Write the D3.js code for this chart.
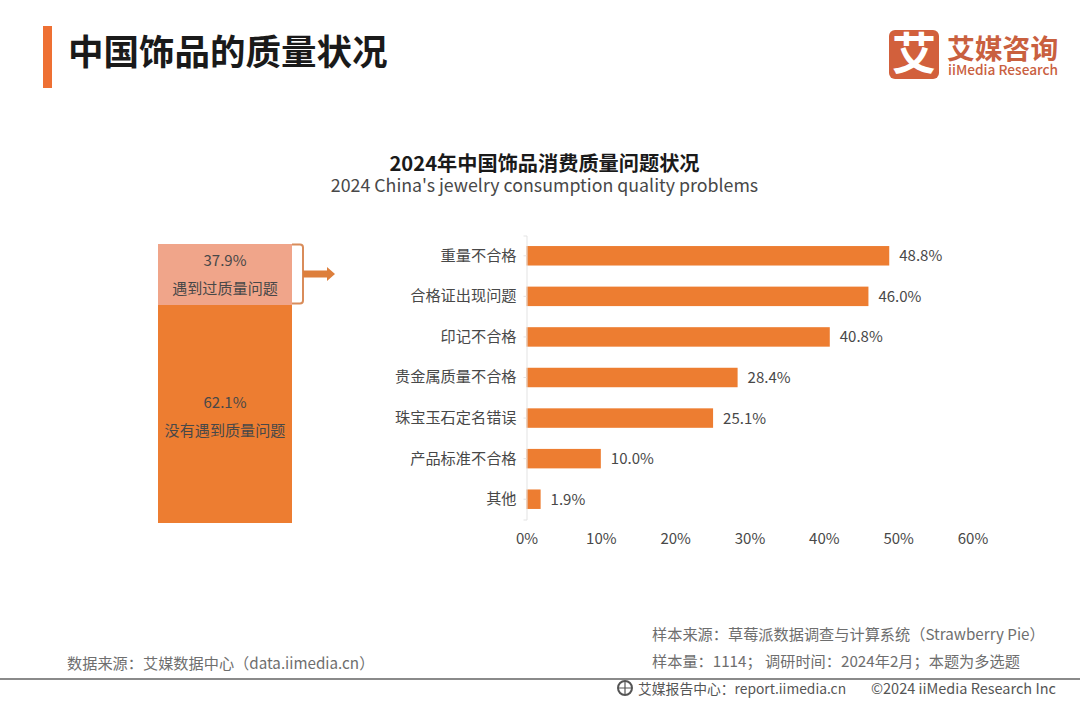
<!DOCTYPE html>
<html>
<head>
<meta charset="utf-8">
<script src="https://cdn.jsdelivr.net/npm/d3@7"></script>
<style>
  html, body { margin: 0; padding: 0; background: #fff; }
  svg { display: block; font-family: "Noto Sans CJK SC", "Noto Sans", sans-serif; }
</style>
</head>
<body>
<div id="chart"></div>
<script>
const categories = ["重量不合格", "合格证出现问题", "印记不合格", "贵金属质量不合格", "珠宝玉石定名错误", "产品标准不合格", "其他"];
const values = [48.8, 46.0, 40.8, 28.4, 25.1, 10.0, 1.9];
const xTicks = [0, 10, 20, 30, 40, 50, 60];
const stackLabels = ["没有遇到质量问题", "遇到过质量问题"];
const stackValues = [62.1, 37.9];

const svgWidth = 1080, svgHeight = 702;
const orange = "#ed7d31", pale = "#f0a58a", textColor = "#484848";

const svg = d3.select("#chart").append("svg")
    .attr("width", svgWidth)
    .attr("height", svgHeight);

function label(x, y, str, size, color, anchor, weight) {
    return svg.append("text")
        .attr("x", x).attr("y", y)
        .attr("font-size", size)
        .attr("fill", color || textColor)
        .attr("text-anchor", anchor || "start")
        .attr("font-weight", weight || 400)
        .text(str);
}

//HEADER
svg.append("rect").attr("x", 43).attr("y", 26).attr("width", 9).attr("height", 62).attr("fill", "#ee7033");
label(68, 65, "中国饰品的质量状况", 35.5, "#1a1a1a", "start", 700);

//LOGO
svg.append("rect").attr("x", 889).attr("y", 30).attr("width", 50).attr("height", 49).attr("rx", 6).attr("fill", "#d2603c");
label(914, 70, "艾", 44, "#fff", "middle", 700);
label(947, 59, "艾媒咨询", 27.8, "#c9603f", "start", 700);
label(948, 75, "iiMedia Research", 13.7, "#c9603f", "start", 500);

//CHART TITLE
label(544.5, 170.5, "2024年中国饰品消费质量问题状况", 20.2, "#1a1a1a", "middle", 700);
label(544.5, 192, "2024 China's jewelry consumption quality problems", 17.8, textColor, "middle");

//LEFT STACK (the reference drew it out of proportion, so the scale has a break)
const stackY = d3.scaleLinear()
    .domain([0, stackValues[0], 100])
    .range([523, 305, 244]);

svg.append("rect")
    .attr("x", 158).attr("width", 134)
    .attr("y", stackY(stackValues[0])).attr("height", stackY(0) - stackY(stackValues[0]))
    .attr("fill", orange);
svg.append("rect")
    .attr("x", 158).attr("width", 134)
    .attr("y", stackY(100)).attr("height", stackY(stackValues[0]) - stackY(100))
    .attr("fill", pale);

label(225, 408, d3.format(".1f")(stackValues[0]) + "%", 15, textColor, "middle");
label(225, 436, stackLabels[0], 15.1, textColor, "middle");
label(225, 266, d3.format(".1f")(stackValues[1]) + "%", 15, textColor, "middle");
label(225, 294, stackLabels[1], 15.1, textColor, "middle");

//BRACKET AND ARROW
svg.append("path")
    .attr("d", "M292,244.5H300Q303,244.5 303,247.5V300.5Q303,303.5 300,303.5H292")
    .attr("fill", "none").attr("stroke", "#d98c5a").attr("stroke-width", 2);
svg.append("path")
    .attr("d", "M303,270.5H327V267L335,274L327,281V277.5H303Z")
    .attr("fill", "#dd7f3c");

//SCALES
const x = d3.scaleLinear().domain([0, 60]).range([526.5, 972.5]);
const y = d3.scaleBand().domain(categories).range([235.5, 519.5]).paddingInner(0.52).paddingOuter(0.26);

//BARS
svg.append("g").selectAll("rect")
    .data(values)
    .join("rect")
    .attr("x", x(0))
    .attr("y", (d, i) => y(categories[i]))
    .attr("width", d => x(d) - x(0))
    .attr("height", y.bandwidth())
    .attr("fill", orange);

svg.append("g").selectAll("text")
    .data(values)
    .join("text")
    .attr("x", d => x(d) + 10)
    .attr("y", (d, i) => y(categories[i]) + y.bandwidth() / 2 + 5.5)
    .attr("font-size", 15)
    .attr("fill", textColor)
    .text(d => d3.format(".1f")(d) + "%");

//AXES
const yAxis = svg.append("g")
    .attr("transform", `translate(${x(0)},0)`)
    .call(d3.axisLeft(y).tickSize(3).tickPadding(7));
yAxis.select(".domain").attr("stroke", "#e3e3e3");
yAxis.selectAll(".tick line").attr("stroke", "#e3e3e3");
yAxis.selectAll("text")
    .attr("font-size", 15.2)
    .attr("font-family", '"Noto Sans CJK SC", sans-serif')
    .attr("fill", textColor);

const xAxis = svg.append("g")
    .attr("transform", "translate(0,519)")
    .call(d3.axisBottom(x).tickValues(xTicks).tickFormat(d => d + "%").tickSize(0).tickPadding(14));
xAxis.select(".domain").remove();
xAxis.selectAll("text")
    .attr("font-size", 15)
    .attr("font-family", '"Noto Sans CJK SC", sans-serif')
    .attr("fill", textColor);

//FOOTER
label(67, 669, "数据来源：艾媒数据中心（data.iimedia.cn）", 15.2, "#6e6e6e");
label(652, 640, "样本来源：草莓派数据调查与计算系统（Strawberry Pie）", 15.2, "#6e6e6e");
label(652, 667, "样本量：1114；  调研时间：2024年2月；本题为多选题", 15.2, "#6e6e6e");

svg.append("rect").attr("x", 0).attr("y", 678).attr("width", svgWidth).attr("height", 2).attr("fill", "#8a8a8a");

svg.append("circle").attr("cx", 625).attr("cy", 688).attr("r", 7)
    .attr("fill", "none").attr("stroke", "#555").attr("stroke-width", 2);
svg.append("path").attr("d", "M618,688H632M625,681V695").attr("stroke", "#555").attr("stroke-width", 1.2);
label(638, 694, "艾媒报告中心：report.iimedia.cn", 13.8, "#555");
label(871, 694, "©2024  iiMedia Research  Inc", 14.5, "#555");
</script>
</body>
</html>
